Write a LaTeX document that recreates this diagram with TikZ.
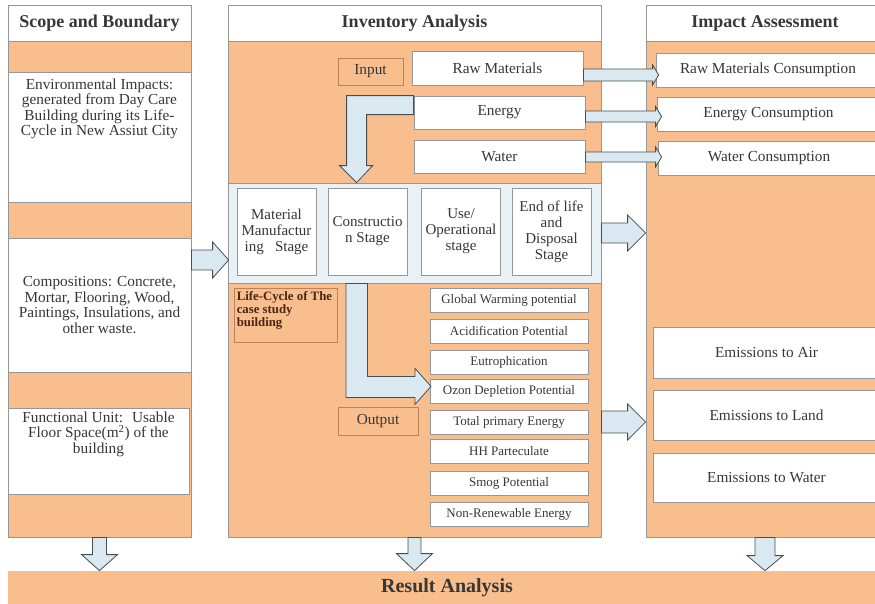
\documentclass[tikz,border=0pt]{standalone}
\usepackage{fontspec}
\setmainfont{Liberation Serif}
\usetikzlibrary{positioning,calc}

\definecolor{peach}{RGB}{248,190,142}
\definecolor{lightblue}{RGB}{218,233,241}
\definecolor{bandblue}{RGB}{232,241,246}
\definecolor{edgegray}{RGB}{150,150,150}
\definecolor{arrowedge}{RGB}{70,78,82}
\definecolor{peachedge}{RGB}{188,130,92}
\definecolor{inktext}{RGB}{55,55,55}
\definecolor{lcbrown}{RGB}{75,38,18}

\tikzset{
  whitebox/.style={draw=edgegray, fill=white, line width=0.8pt, inner sep=0pt, align=center, text=inktext},
  peachbox/.style={draw=edgegray, fill=peach, line width=0.8pt, inner sep=0pt, align=center, text=inktext},
  tagbox/.style={draw=peachedge, fill=peach, line width=0.8pt, inner sep=0pt, align=center, text=inktext},
  bandbox/.style={draw=edgegray, fill=bandblue, line width=0.8pt, inner sep=0pt},
  headtext/.style={font=\fontsize{18}{20}\selectfont\bfseries},
  bodytext/.style={font=\fontsize{15.3}{15.5}\selectfont, text=inktext, inner sep=0pt, align=center},
  inputtext/.style={font=\fontsize{15.3}{17}\selectfont},
  stagebox/.style={whitebox, minimum width=79pt, minimum height=87pt, font=\fontsize{15}{16}\selectfont},
  listbox/.style={whitebox, minimum width=158pt, minimum height=24pt, font=\fontsize{13}{14}\selectfont},
  impbox/.style={whitebox, font=\fontsize{15.3}{17}\selectfont},
  cycletext/.style={font=\fontsize{12.8}{13}\selectfont\bfseries, text=lcbrown, inner sep=0pt, align=left},
  blockarrow/.style={draw=arrowedge, fill=lightblue, line width=0.8pt, line join=miter}
}

% block arrow pointing right: from #1 to #2, shaft half width #3, head half width #4, head length #5
\newcommand{\blockright}[5]{%
  \path[blockarrow] let \p1=#1, \p2=#2 in
    (\x1,\y2+#3) -- (\x2-#5,\y2+#3) -- (\x2-#5,\y2+#4) -- (\x2,\y2)
    -- (\x2-#5,\y2-#4) -- (\x2-#5,\y2-#3) -- (\x1,\y2-#3) -- cycle;}
% block arrow pointing down
\newcommand{\blockdown}[5]{%
  \path[blockarrow] let \p1=#1, \p2=#2 in
    (\x2-#3,\y1) -- (\x2-#3,\y2+#5) -- (\x2-#4,\y2+#5) -- (\x2,\y2)
    -- (\x2+#4,\y2+#5) -- (\x2+#3,\y2+#5) -- (\x2+#3,\y1) -- cycle;}

\begin{document}
\begin{tikzpicture}[x=1pt, y=-1pt]
\useasboundingbox (0,0) rectangle (875,603);

% scope and boundary
\node[whitebox, headtext, minimum width=183pt, minimum height=36pt] (scopehead) at (99.5,23) {Scope and Boundary};
\node[peachbox, minimum width=183pt, minimum height=496pt] (scopecol) at (99.5,289) {};
\node[whitebox, minimum width=183pt, minimum height=130pt] (envbox) at (99.5,137) {};
\node[bodytext, below=7pt of envbox.north] (envtext) {Environmental Impacts:\\generated from Day Care\\Building during its Life-\\Cycle in New Assiut City};
\node[whitebox, bodytext, minimum width=183pt, minimum height=134pt] (compbox) at (99.5,305) {Compositions: Concrete,\\Mortar, Flooring, Wood,\\Paintings, Insulations, and\\other waste.};
\node[whitebox, minimum width=181pt, minimum height=86pt] (fubox) at (98.5,451) {};
\node[bodytext, below=4pt of fubox.north] (futext) {Functional Unit:~ Usable\\Floor Space(m\textsuperscript{2}) of the\\building};

% inventory analysis
\node[whitebox, headtext, minimum width=373pt, minimum height=36pt] (invhead) at (414.5,23) {Inventory Analysis};
\node[peachbox, minimum width=373pt, minimum height=496pt] (invcol) at (414.5,289) {};
\node[tagbox, inputtext, minimum width=65pt, minimum height=27pt] (input) at (370.5,71.5) {Input};
\node[whitebox, inputtext, minimum width=171pt, minimum height=34pt] (raw) at (497.5,68) {Raw Materials};
\node[whitebox, inputtext, minimum width=171pt, minimum height=33pt] (energy) at (499.5,112.5) {Energy};
\node[whitebox, inputtext, minimum width=171pt, minimum height=33pt] (water) at (499.5,156.5) {Water};

\node[bandbox, minimum width=373pt, minimum height=100pt] (band) at (414.5,233) {};
\node[stagebox] (mms) at (276.5,231.5) {Material\\Manufactur\\ing~~ Stage};
\node[stagebox] (cons) at (367.5,231.5) {Constructio\\n Stage};
\node[stagebox] (use) at (461,231.5) {Use/\\Operational\\stage};
\node[stagebox] (eol) at (551.5,231.5) {End of life\\and\\Disposal\\Stage};

\node[tagbox, minimum width=103pt, minimum height=54pt] (lcbox) at (285.5,315) {};
\node[cycletext, anchor=north west] (lctext) at ([xshift=3pt,yshift=-4pt]lcbox.north west) {Life-Cycle of The\\case study\\building};
\node[tagbox, font=\fontsize{15.3}{17}\selectfont, minimum width=80pt, minimum height=28pt] (output) at (378,421) {Output};

\node[listbox] (gwp) at (509,300) {Global Warming potential};
\node[listbox] (acid) at (509,331) {Acidification Potential};
\node[listbox] (eutro) at (509,362.5) {Eutrophication};
\node[listbox] (ozone) at (509,391.5) {Ozon Depletion Potential};
\node[listbox] (tpe) at (509,422) {Total primary Energy};
\node[listbox] (hh) at (509,451) {HH Parteculate};
\node[listbox] (smog) at (509,483) {Smog Potential};
\node[listbox] (nre) at (509,514.5) {Non-Renewable Energy};

% impact assessment
\node[whitebox, headtext, minimum width=238pt, minimum height=36pt] (imphead) at (765,23) {Impact Assessment};
\node[peachbox, minimum width=238pt, minimum height=496pt] (impcol) at (765,289) {};
\node[impbox, minimum width=224pt, minimum height=34pt] (rmc) at (768,70) {Raw Materials Consumption};
\node[impbox, minimum width=223pt, minimum height=34pt] (ec) at (768.5,114) {Energy Consumption};
\node[impbox, minimum width=222pt, minimum height=34pt] (wc) at (769,158) {Water Consumption};
\node[impbox, minimum width=227pt, minimum height=51pt] (air) at (766.5,352.5) {Emissions to Air};
\node[impbox, minimum width=227pt, minimum height=50pt] (land) at (766.5,415) {Emissions to Land};
\node[impbox, minimum width=227pt, minimum height=49pt] (watem) at (766.5,477.5) {Emissions to Water};

% result
\node[peachbox, font=\fontsize{20}{22}\selectfont\bfseries, draw=none, minimum width=878pt, minimum height=34pt] (result) at (447,588) {Result Analysis};

% arrows
\coordinate (bandin) at ([xshift=1pt,yshift=-27pt]band.west);
\coordinate (rawtip) at ([xshift=3pt,yshift=-5pt]rmc.west);
\coordinate (energytip) at ([xshift=5pt,yshift=-2.5pt]ec.west);
\coordinate (watertip) at ([xshift=4pt,yshift=1pt]wc.west);

\blockright{(scopecol.east)}{(bandin)}{10pt}{18pt}{16pt}
\blockright{(raw.east)}{(rawtip)}{6pt}{10pt}{6pt}
\blockright{(energy.east)}{(energytip)}{5.5pt}{10pt}{6pt}
\blockright{(water.east)}{(watertip)}{5pt}{10pt}{6pt}
\blockright{(band.east)}{(impcol.west |- band.east)}{10pt}{18pt}{18pt}
\blockright{(invcol.east)}{(impcol.west |- tpe.east)}{11pt}{18pt}{18pt}

\path[blockarrow] (energy.north west) -- ++(-67,0) -- ++(0,70) -- ++(-7,0) -- ++(17,17)
  -- ++(16,-17) -- ++(-6,0) -- ++(0,-51) -- ++(47,0) -- cycle;
\path[blockarrow] (cons.south |- band.south) -- ++(0,93) -- ++(47.5,0) -- ++(0,-8) -- ++(16,18)
  -- ++(-16,18) -- ++(0,-7) -- ++(-69,0) -- ++(0,-114) -- cycle;

\blockdown{(scopecol.south)}{(scopecol.south |- result.north)}{7pt}{18pt}{16pt}
\blockdown{(invcol.south)}{(invcol.south |- result.north)}{6.5pt}{18pt}{17pt}
\blockdown{(impcol.south)}{(impcol.south |- result.north)}{10pt}{18pt}{15pt}
\end{tikzpicture}
\end{document}
